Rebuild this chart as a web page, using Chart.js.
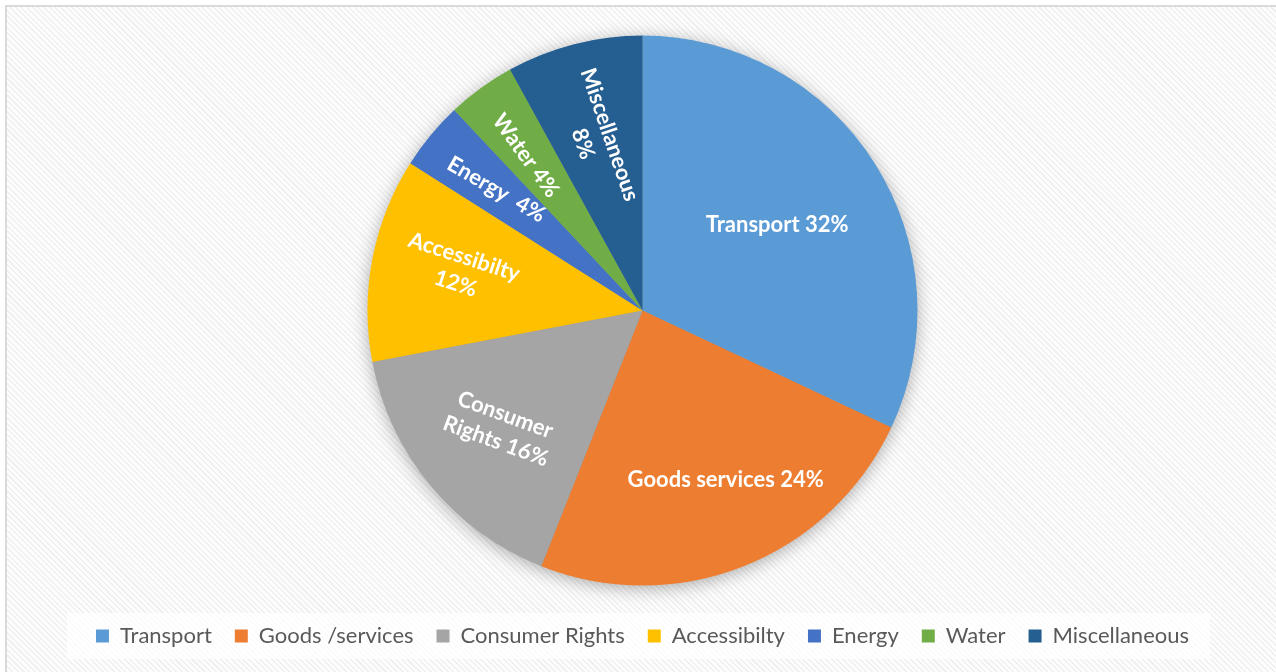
<!DOCTYPE html>
<html>
<head>
<meta charset="utf-8">
<script src="https://cdn.jsdelivr.net/npm/chart.js@4.4.0/dist/chart.umd.min.js"></script>
<style>
    html, body { margin: 0; padding: 0; background: #fff; overflow: hidden; }
    #frame {
        position: absolute; left: 5px; top: 5px; width: 1300px; height: 700px;
        border-left: 2px solid #dadada; border-top: 2px solid #dadada;
        background: repeating-linear-gradient(45deg, #f0f0f0 0px, #f0f0f0 1.5px, #fdfdfd 1.5px, #fdfdfd 4px);
    }
    #chart { position: absolute; left: 0; top: 0; }
</style>
</head>
<body>
<div id="frame"></div>
<canvas id="chart" width="1276" height="672"></canvas>
<script>
// data
var categories = ["Transport", "Goods /services", "Consumer Rights", "Accessibilty", "Energy", "Water", "Miscellaneous"];
var shares = [32, 24, 16, 12, 4, 4, 8];
var sliceLabels = [
    ["Transport 32%"],
    ["Goods services 24%"],
    ["Consumer", "Rights 16%"],
    ["Accessibilty", "12%"],
    ["Energy  4%"],
    ["Water 4%"],
    ["Miscellaneous", "8%"]
];

// styling
var sliceColors = ["#5B9BD5", "#ED7D31", "#A5A5A5", "#FFC000", "#4472C4", "#70AD47", "#255E91"];
var labelRadius = [0.58, 0.685, 0.67, 0.68, 0.69, 0.705, 0.645];
var labelTurn = [0, -4.6, 0, 1.6, 0, -1, -0.7];   // degrees off the slice middle
var labelTilt = [0, 0, 20, 18, 30, 54, 71];       // text rotation, degrees

// soft shadow under the pie
var pieShadow = {
    id: 'pieShadow',
    beforeDatasetsDraw: function (chart) {
        var arc = chart.getDatasetMeta(0).data[0];
        if (!arc) return;
        var ctx = chart.ctx;
        ctx.save();
        ctx.shadowColor = 'rgba(0,0,0,0.35)';
        ctx.shadowBlur = 18;
        ctx.shadowOffsetY = 3;
        ctx.fillStyle = '#999';
        ctx.beginPath();
        ctx.arc(arc.x, arc.y, arc.outerRadius - 1, 0, Math.PI * 2);
        ctx.fill();
        ctx.restore();
    }
};

// white labels inside the slices
var sliceText = {
    id: 'sliceText',
    afterDatasetsDraw: function (chart) {
        var ctx = chart.ctx;
        var arcs = chart.getDatasetMeta(0).data;
        ctx.save();
        ctx.fillStyle = '#ffffff';
        ctx.font = 'bold 22px Lato';
        ctx.textAlign = 'center';
        ctx.textBaseline = 'middle';
        for (var i = 0; i < arcs.length; i++) {
            var a = arcs[i];
            var mid = (a.startAngle + a.endAngle) / 2 + labelTurn[i] * Math.PI / 180;
            var r = a.outerRadius * labelRadius[i];
            var lines = sliceLabels[i];
            ctx.save();
            ctx.translate(a.x + Math.cos(mid) * r, a.y + Math.sin(mid) * r);
            ctx.rotate(labelTilt[i] * Math.PI / 180);
            for (var j = 0; j < lines.length; j++) {
                ctx.fillText(lines[j], 0, (j - (lines.length - 1) / 2) * 28);
            }
            ctx.restore();
        }
        ctx.restore();
    }
};

// light panel behind the legend
var legendPanel = {
    id: 'legendPanel',
    beforeDraw: function (chart) {
        var lg = chart.legend;
        if (!lg || !lg.lineWidths) return;
        var pad = lg.options.labels.padding;
        var rowW = lg.lineWidths[0] - pad;
        var x0 = (lg.left + lg.right - rowW) / 2;
        var ctx = chart.ctx;
        ctx.save();
        ctx.fillStyle = 'rgba(255,255,255,0.75)';
        ctx.fillRect(x0 - 29, lg.top + pad - 12, rowW + 50, 46);
        ctx.restore();
    }
};

new Chart(document.getElementById('chart'), {
    type: 'pie',
    data: {
        labels: categories,
        datasets: [{
            data: shares,
            backgroundColor: sliceColors,
            borderWidth: 0,
            radius: 275
        }]
    },
    options: {
        responsive: false,
        animation: false,
        devicePixelRatio: 1,
        layout: { padding: { top: 19, bottom: 15, left: 9, right: 0 } },
        plugins: {
            tooltip: { enabled: false },
            legend: {
                position: 'bottom',
                labels: {
                    boxWidth: 13,
                    boxHeight: 13,
                    padding: 23,
                    color: '#595959',
                    font: { family: 'Lato', size: 22 }
                }
            }
        }
    },
    plugins: [pieShadow, sliceText, legendPanel]
});
</script>
</body>
</html>
